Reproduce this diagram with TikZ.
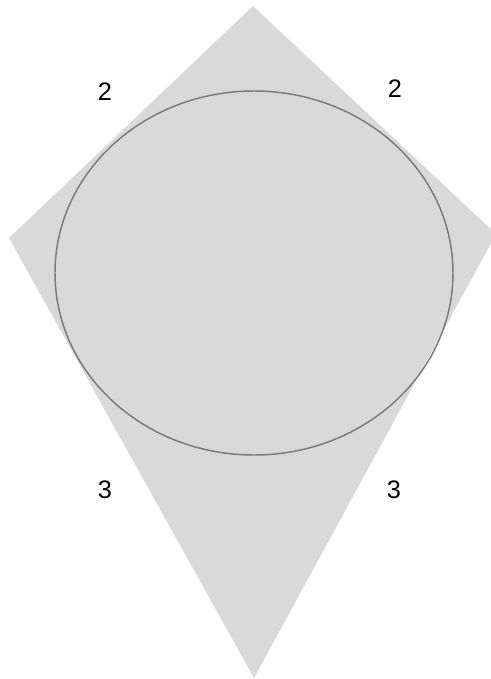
\documentclass[tikz,border=0pt]{standalone}
\usepackage{fontspec}
\setmainfont{Liberation Sans}
\usepackage{tikz}
\definecolor{kitefill}{RGB}{217, 217, 217}
\definecolor{ringgray}{RGB}{122, 122, 122}
\usetikzlibrary{positioning, calc}

\begin{document}
\begin{tikzpicture}[
    x=0.75pt, y=-0.75pt,
    side/.style={font=\fontsize{19}{22}\selectfont, text=black, inner sep=0pt}
]
    \useasboundingbox (0,0) rectangle (491,679);

    % kite corners
    \coordinate (top) at (253,6);
    \coordinate (left) at (9,238);
    \coordinate (right) at (496,234);
    \coordinate (bottom) at (254,678);

    \fill[kitefill] (top) -- (right) -- (bottom) -- (left) -- cycle;

    % inscribed ellipse
    \draw[ringgray, line width=1.1pt] (254,273) ellipse [x radius=199, y radius=182];

    \node[side] (tl) at (105,92) {2};
    \node[side] (tr) at (395,89) {2};
    \node[side] (bl) at (105,490) {3};
    \node[side] (br) at (394,490) {3};
\end{tikzpicture}
\end{document}
